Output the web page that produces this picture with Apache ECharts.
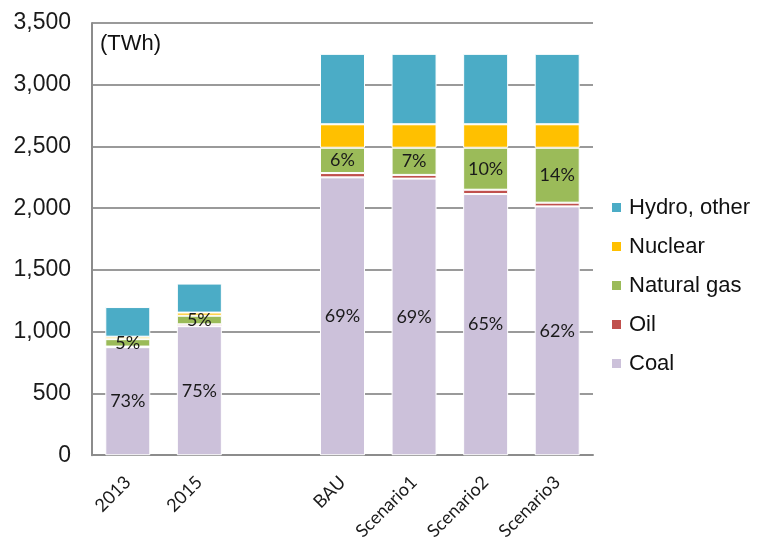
<!DOCTYPE html>
<html>
<head>
<meta charset="utf-8">
<script src="https://cdn.jsdelivr.net/npm/echarts@6/dist/echarts.min.js"></script>
<style>
  html, body { margin: 0; padding: 0; background: #fff; overflow: hidden; }
  #chart { width: 757px; height: 543px; }
</style>
</head>
<body>
<div id="chart"></div>
<script>
// Power generation mix by source (TWh); the blank category separates history from scenarios
const categories = ['2013', '2015', '', 'BAU', 'Scenario1', 'Scenario2', 'Scenario3'];
const coal    = [875, 1045, null, 2250, 2240, 2115, 2015];
const oil     = [5,   15,   null, 35,   30,   35,   30];
const gas     = [60,  70,   null, 205,  220,  340,  445];
const nuclear = [20,  25,   null, 190,  190,  190,  190];
const hydro   = [240, 235,  null, 570,  570,  570,  570];

const yTicks = [0, 500, 1000, 1500, 2000, 2500, 3000, 3500];

const totals = categories.map((_, i) =>
  [coal, oil, gas, nuclear, hydro].reduce((s, arr) => s + (arr[i] || 0), 0));

function shareLabel(arr) {
  return function (p) {
    const v = arr[p.dataIndex];
    const t = totals[p.dataIndex];
    if (!v || !t) return '';
    return Math.round(v / t * 100) + '%';
  };
}

const labelFont = { fontFamily: 'Lato', fontSize: 18, color: '#1a1a1a' };

function series(name, data, color, withLabel) {
  return {
    name: name,
    type: 'bar',
    stack: 'total',
    data: data,
    barWidth: 45,
    itemStyle: { color: color, borderColor: '#ffffff', borderWidth: 1 },
    label: withLabel ? Object.assign({ show: true, position: 'inside', formatter: shareLabel(data) }, labelFont)
                     : { show: false },
    emphasis: { disabled: true }
  };
}

const chart = echarts.init(document.getElementById('chart'), null, { renderer: 'canvas' });
chart.setOption({
  animation: false,
  grid: { left: 92, top: 23, right: 164, bottom: 86, containLabel: false },
  xAxis: {
    type: 'category',
    data: categories,
    axisLine: { show: true, lineStyle: { color: '#8c8c8c', width: 2 } },
    axisTick: { show: false },
    axisLabel: { rotate: 45, margin: 24, fontFamily: 'Lato', fontSize: 18, color: '#1a1a1a', interval: 0 }
  },
  yAxis: {
    type: 'value',
    min: yTicks[0],
    max: yTicks[yTicks.length - 1],
    interval: 500,
    axisLine: { show: true, lineStyle: { color: '#8c8c8c', width: 2 } },
    axisTick: { show: false },
    splitLine: { show: true, lineStyle: { color: '#9a9a9a', width: 2 } },
    axisLabel: {
      margin: 21,
      fontFamily: 'Liberation Sans, Arial, sans-serif',
      fontSize: 23,
      color: '#1a1a1a',
      formatter: v => v.toLocaleString('en-US')
    }
  },
  legend: {
    orient: 'vertical',
    left: 610,
    top: 196,
    padding: 0,
    itemWidth: 11,
    itemHeight: 11,
    itemGap: 16,
    icon: 'rect',
    data: ['Hydro, other', 'Nuclear', 'Natural gas', 'Oil', 'Coal'],
    textStyle: { fontFamily: 'Liberation Sans, Arial, sans-serif', fontSize: 22, color: '#111', lineHeight: 23, padding: [0, 0, 0, 2] }
  },
  graphic: [{
    type: 'text',
    left: 100,
    top: 33,
    style: { text: '(TWh)', font: '22px "Liberation Sans", Arial, sans-serif', fill: '#111' }
  }],
  series: [
    series('Coal', coal, '#ccc1da', true),
    series('Oil', oil, '#c0504d', false),
    series('Natural gas', gas, '#9bbb59', true),
    series('Nuclear', nuclear, '#ffc000', false),
    series('Hydro, other', hydro, '#4bacc6', false)
  ]
});
</script>
</body>
</html>
